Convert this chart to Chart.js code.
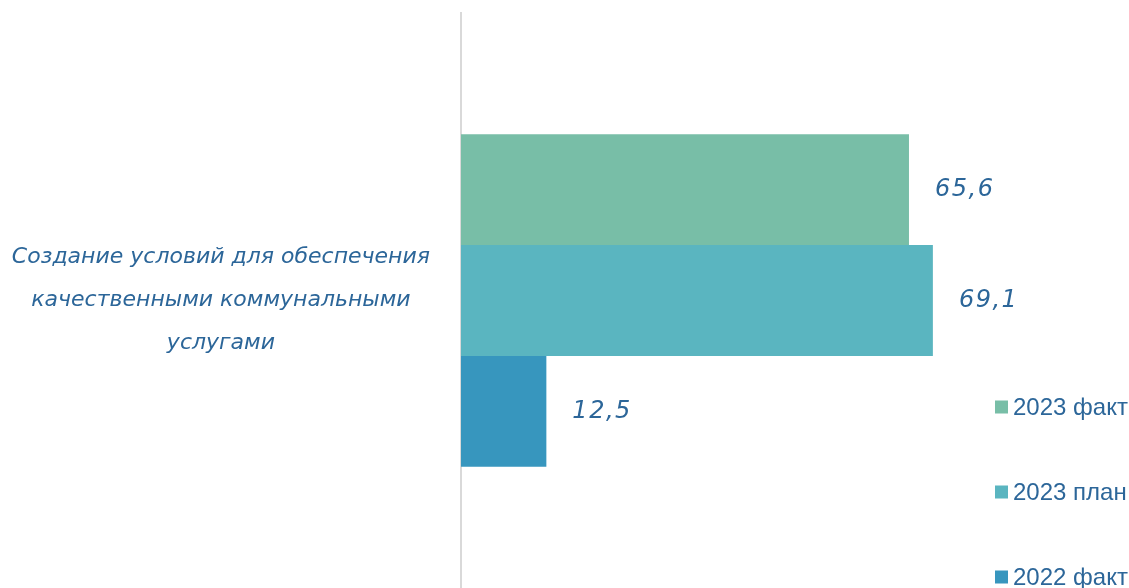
<!DOCTYPE html>
<html><head><meta charset="utf-8">
<script src="https://cdn.jsdelivr.net/npm/chart.js@4/dist/chart.umd.min.js"></script>
<style>html,body{margin:0;padding:0;background:#fff;overflow:hidden}canvas{display:block}</style>
</head><body>
<canvas id="c" width="1129" height="588"></canvas>
<script>
const categories = [["Создание условий для обеспечения", "качественными коммунальными", "услугами"]];
const seriesNames = ["2023 факт", "2023 план", "2022 факт"];
const fact2023 = [65.6];
const plan2023 = [69.1];
const fact2022 = [12.5];
const colors = ["#78BEA7", "#5AB5C0", "#3796BE"];
const textColor = "#2C6699";
const scriptFont = "'DejaVu Sans', sans-serif";

const fmt = v => v.toFixed(1).replace('.', ',');

const labelPlugin = {
  id: 'valueLabels',
  afterDatasetsDraw(chart) {
    const ctx = chart.ctx;
    ctx.save();
    ctx.font = "oblique 24px " + scriptFont;
    if ('letterSpacing' in ctx) ctx.letterSpacing = '1.5px';
    ctx.fillStyle = textColor;
    ctx.textBaseline = 'middle';
    ctx.textAlign = 'left';
    chart.data.datasets.forEach((ds, i) => {
      chart.getDatasetMeta(i).data.forEach((bar, j) => {
        ctx.fillText(fmt(ds.data[j]), bar.x + 26, bar.y);
      });
    });
    ctx.restore();
  }
};

const legendPlugin = {
  id: 'customLegend',
  afterDraw(chart) {
    const ctx = chart.ctx;
    ctx.save();
    ctx.font = "24px 'Liberation Sans', Arial, sans-serif";
    ctx.textBaseline = 'middle';
    ctx.textAlign = 'left';
    chart.data.datasets.forEach((ds, i) => {
      const y = 407 + i * 85;
      ctx.fillStyle = ds.backgroundColor;
      ctx.fillRect(995, y - 6.5, 13, 13);
      ctx.fillStyle = textColor;
      ctx.fillText(ds.label, 1013, y + 1);
    });
    ctx.restore();
  }
};

new Chart(document.getElementById('c'), {
  type: 'bar',
  data: {
    labels: categories,
    datasets: [
      { label: seriesNames[0], data: fact2023, backgroundColor: colors[0] },
      { label: seriesNames[1], data: plan2023, backgroundColor: colors[1] },
      { label: seriesNames[2], data: fact2022, backgroundColor: colors[2] }
    ]
  },
  options: {
    indexAxis: 'y',
    responsive: false,
    animation: false,
    layout: { padding: { top: 13, right: 149, bottom: 0, left: 0 } },
    datasets: { bar: { barPercentage: 1, categoryPercentage: 0.578, borderWidth: 0 } },
    plugins: { legend: { display: false }, tooltip: { enabled: false } },
    scales: {
      x: { display: false, min: 0, max: 76 },
      y: {
        grid: { display: false, drawTicks: false },
        border: { display: true, color: '#D9D9D9', width: 2 },
        ticks: {
          crossAlign: 'center',
          padding: 31,
          color: textColor,
          font: { family: scriptFont, size: 22, style: 'oblique', lineHeight: 1.95 }
        },
        afterFit(scale) {
          scale.width = 461;
          scale.paddingTop = 0;
          scale.paddingBottom = 0;
        }
      }
    }
  },
  plugins: [labelPlugin, legendPlugin]
});
</script>
</body></html>
